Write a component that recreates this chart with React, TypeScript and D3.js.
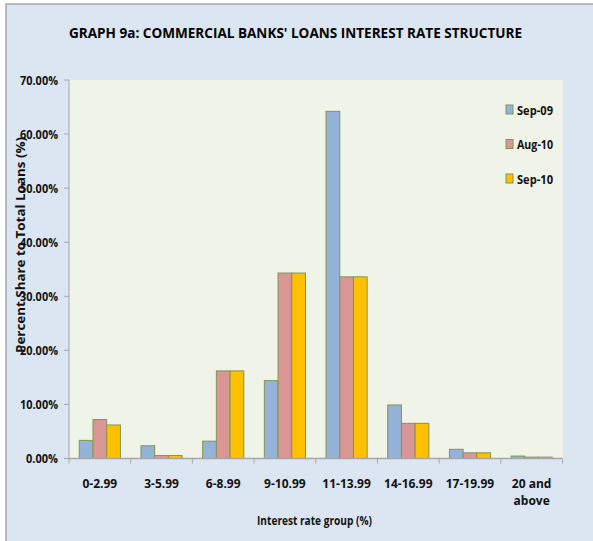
import React from "react";
import * as d3 from "d3";

const categories = ["0-2.99", "3-5.99", "6-8.99", "9-10.99", "11-13.99", "14-16.99", "17-19.99", "20 and above"];
const seriesNames = ["Sep-09", "Aug-10", "Sep-10"];
const sep09 = [3.35, 2.35, 3.2, 14.4, 64.2, 9.9, 1.7, 0.45];
const aug10 = [7.2, 0.55, 16.2, 34.3, 33.6, 6.5, 1.05, 0.25];
const sep10 = [6.2, 0.55, 16.2, 34.3, 33.6, 6.5, 1.05, 0.25];
const yTicks = [0, 10, 20, 30, 40, 50, 60, 70];
const colors = ["#95b3d7", "#d99694", "#ffc000"];

const W = 593;
const H = 541;
const plot = { left: 69, right: 562.5, top: 80, bottom: 458.5 };
const FONT = "'Liberation Sans Narrow', 'Open Sans', 'Liberation Sans', sans-serif";

export default function App() {
  const series = [sep09, aug10, sep10];
  const x = d3.scaleBand<string>().domain(categories).range([plot.left, plot.right]).paddingInner(0).paddingOuter(0);
  const bw = x.bandwidth() / 4.5;
  const y = d3.scaleLinear().domain([0, 70]).range([plot.bottom, plot.top]);

  return (
    <svg width={W} height={H} style={{ position: "absolute", left: 0, top: 0 }}>
      <rect x={0} y={0} width={W} height={H} fill="#ffffff" />
      <rect x={6} y={4} width={W + 10} height={H + 10} fill="#dce6f2" stroke="#a6a6a6" strokeWidth={1.5} />
      <text x={295.5} y={38} textAnchor="middle" fontFamily={FONT} fontWeight="bold" fontSize={15} fill="#000" textLength={453} lengthAdjust="spacingAndGlyphs">
        GRAPH 9a:  COMMERCIAL BANKS' LOANS INTEREST RATE STRUCTURE
      </text>
      <rect x={plot.left} y={plot.top} width={plot.right - plot.left} height={plot.bottom - plot.top} fill="#f0f3e8" />
      {/* y axis */}
      <line x1={plot.left} x2={plot.left} y1={plot.top} y2={plot.bottom} stroke="#a6a6a6" />
      {yTicks.map((t) => (
        <g key={t}>
          <line x1={plot.left - 5} x2={plot.left} y1={y(t)} y2={y(t)} stroke="#a6a6a6" />
          <text x={58} y={y(t) + 4.5} textAnchor="end" fontFamily={FONT} fontWeight="bold" fontSize={13} fill="#111" textLength={t === 0 ? 32 : 38} lengthAdjust="spacingAndGlyphs">
            {t.toFixed(2)}%
          </text>
        </g>
      ))}
      {/* bars */}
      {categories.map((c, i) => (
        <g key={c}>
          {series.map((s, j) => (
            <rect
              key={j}
              x={(x(c) as number) + bw * (0.75 + j)}
              y={y(s[i])}
              width={bw}
              height={plot.bottom - y(s[i])}
              fill={colors[j]}
              stroke="#7f9650"
              strokeWidth={1}
            />
          ))}
        </g>
      ))}
      {/* x axis */}
      <line x1={plot.left} x2={plot.right} y1={plot.bottom} y2={plot.bottom} stroke="#a6a6a6" strokeWidth={1.5} />
      {categories.map((c, i) => (
        <line key={"t" + i} x1={(x(c) as number) + x.bandwidth()} x2={(x(c) as number) + x.bandwidth()} y1={plot.bottom} y2={plot.bottom + 5} stroke="#a6a6a6" />
      ))}
      <line x1={plot.left} x2={plot.left} y1={plot.bottom} y2={plot.bottom + 5} stroke="#a6a6a6" />
      {categories.map((c) => {
        const cx = (x(c) as number) + x.bandwidth() / 2;
        const parts = c === "20 and above" ? ["20 and", "above"] : [c];
        return (
          <text key={"l" + c} textAnchor="middle" fontFamily={FONT} fontWeight="bold" fontSize={12} fill="#111">
            {parts.map((p, k) => (
              <tspan key={k} x={cx} y={488 + k * 17}>
                {p}
              </tspan>
            ))}
          </text>
        );
      })}
      <text x={314.5} y={525} textAnchor="middle" fontFamily={FONT} fontWeight="bold" fontSize={12} fill="#111" textLength={115} lengthAdjust="spacingAndGlyphs">
        Interest rate group (%)
      </text>
      <text transform={`translate(25, 245) rotate(-90)`} textAnchor="middle" fontFamily={FONT} fontWeight="bold" fontSize={12.5} fill="#111" textLength={216} lengthAdjust="spacingAndGlyphs">
        Percent Share to Total Loans (%)
      </text>
      {/* legend */}
      {seriesNames.map((n, j) => (
        <g key={n}>
          <rect x={506} y={105 + j * 34.5} width={7} height={9} fill={colors[j]} stroke="#7f9650" />
          <text x={517} y={114.5 + j * 34.5} fontFamily={FONT} fontWeight="bold" fontSize={12.5} fill="#111" textLength={36} lengthAdjust="spacingAndGlyphs">
            {n}
          </text>
        </g>
      ))}
    </svg>
  );
}
